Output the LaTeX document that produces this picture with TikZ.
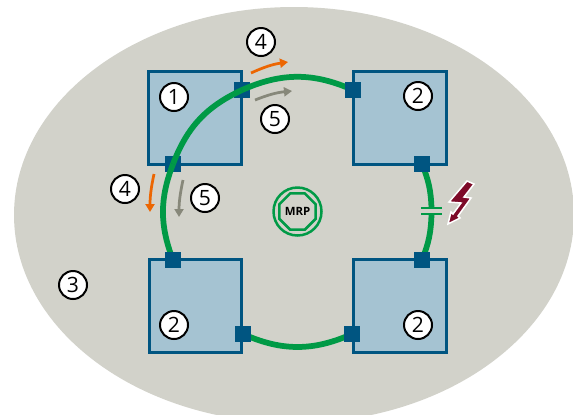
\documentclass[tikz,border=0pt]{standalone}
\usepackage{fontspec}
\setmainfont{Open Sans}
\usetikzlibrary{positioning,arrows.meta,shapes.geometric}
\pgfdeclarelayer{background}
\pgfdeclarelayer{foreground}
\pgfsetlayers{background,main,foreground}
\definecolor{plainbg}{HTML}{D2D2CA}
\definecolor{boxfill}{HTML}{A5C3D2}
\definecolor{boxline}{HTML}{005581}
\definecolor{ringgreen}{HTML}{009A46}
\definecolor{floworange}{HTML}{EC6602}
\definecolor{flowgrey}{HTML}{87887A}
\definecolor{boltred}{HTML}{7D0A28}
\tikzset{
  devbox/.style={draw=boxline, line width=0.055cm, fill=boxfill, minimum size=1.85cm, inner sep=0pt},
  port/.style={fill=boxline, minimum size=0.32cm, inner sep=0pt},
  tag/.style={circle, draw=black, line width=0.04cm, fill=white, minimum size=0.56cm, inner sep=0pt, font=\fontsize{12}{14}\selectfont},
  ring/.style={draw=ringgreen, line width=0.115cm},
  breakbar/.style={fill=ringgreen, minimum width=0.42cm, minimum height=0.04cm, inner sep=0pt},
  flow/.style={-{Triangle[length=0.16cm,width=0.18cm]}, line width=0.055cm}
}
\begin{document}
\begin{tikzpicture}[x=0.02cm, y=-0.02cm]
  \useasboundingbox (0,0) rectangle (573,414);
  \begin{pgfonlayer}{background}
    \fill[plainbg] (294,215) ellipse [x radius=280, y radius=208];
  \end{pgfonlayer}

  \node[devbox] (tl) at (195,118) {};
  \node[devbox] (tr) at (400,118) {};
  \node[devbox] (bl) at (195.5,306) {};
  \node[devbox] (br) at (400,306) {};

  \node[port] (pa) at (242,90) {};
  \node[port] (pb) at (173,164) {};
  \begin{pgfonlayer}{foreground}
    \node[port] (pc) at (353,90) {};
    \node[port] (pd) at (422,164) {};
    \node[port] (pe) at (422,260) {};
    \node[port] (pf) at (352,334) {};
    \node[port] (pg) at (243,334) {};
    \node[port] (ph) at (173,260) {};
  \end{pgfonlayer}
  \node[breakbar] (gapa) at (431.5,208) {};
  \node[breakbar] (gapb) at (431.5,214) {};

  \draw[ring] (pa.center) to[bend right=22] (pb.center);
  \draw[ring] (pa.center) to[bend left=24] (pc.center);
  \draw[ring] (pb.center) to[bend right=21] (ph.center);
  \begin{pgfonlayer}{background}
    \draw[ring] (pc.center) to[bend left=22] (pd.center);
    \draw[ring] (pd.center) to[bend left=10] (gapa.center);
    \draw[ring] (gapb.center) to[bend left=10] (pe.center);
    \draw[ring] (pe.center) to[bend left=22] (pf.center);
    \draw[ring] (pf.center) to[bend left=24] (pg.center);
    \draw[ring] (pg.center) to[bend left=22] (ph.center);
  \end{pgfonlayer}

  \coordinate (o4a) at (251,73);
  \coordinate (o4b) at (288,62);
  \coordinate (g5a) at (255,100);
  \coordinate (g5b) at (292,91);
  \coordinate (o4c) at (154,174);
  \coordinate (o4d) at (150,212);
  \coordinate (g5c) at (183,180);
  \coordinate (g5d) at (179,217);
  \draw[flow, floworange] (o4a) to[bend left=8] (o4b);
  \draw[flow, flowgrey] (g5a) to[bend left=8] (g5b);
  \draw[flow, floworange] (o4c) to[bend right=6] (o4d);
  \draw[flow, flowgrey] (g5c) to[bend right=6] (g5d);

  \node[tag] (t1) at (174,97) {1};
  \node[tag] (t2a) at (418,96) {2};
  \node[tag] (t2b) at (174,325) {2};
  \node[tag] (t2c) at (418,325) {2};
  \node[tag] (t3) at (73,285) {3};
  \node[tag] (t4a) at (261,42) {4};
  \node[tag] (t5a) at (275,119) {5};
  \node[tag] (t4b) at (125,189) {4};
  \node[tag] (t5b) at (205,198) {5};

  \node[circle, draw=ringgreen, line width=0.05cm, minimum size=0.96cm, inner sep=0pt] (mrpout) at (297.5,211.5) {};
  \node[regular polygon, regular polygon sides=8, draw=ringgreen, line width=0.05cm, minimum size=0.74cm, inner sep=0pt, font=\fontsize{6.5}{7}\selectfont\bfseries] (mrp) at (mrpout) {MRP};

  \fill[boltred, draw=white, line width=0.03cm] (467,181) -- (474,184) -- (464,197) -- (471,198) -- (458,216) -- (460,218) -- (448,224) -- (451,212) -- (453,214) -- (461,203) -- (449,202) -- cycle;
\end{tikzpicture}
\end{document}
